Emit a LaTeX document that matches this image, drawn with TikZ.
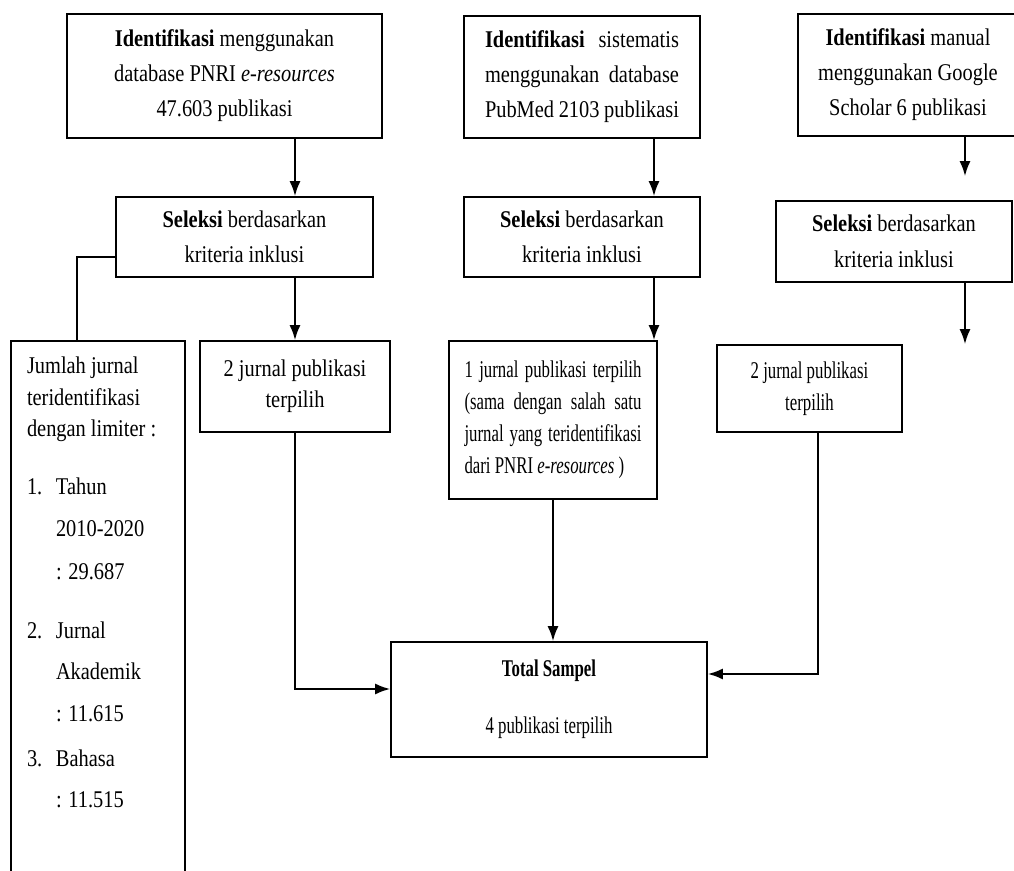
\documentclass[tikz,border=0pt]{standalone}
\usepackage{fontspec}
\setmainfont{Liberation Serif}
\newfontfamily\wideserif[FakeStretch=0.85]{Liberation Serif}
\newfontfamily\narrowserif[FakeStretch=0.70]{Liberation Serif}
\usetikzlibrary{arrows.meta,calc,positioning}

\newcommand{\listnum}[1]{\makebox[14.5pt][l]{#1}}

\begin{document}
\begin{tikzpicture}
[
                 x =  0.5pt,
                 y = -0.5pt,
            ->, >= {Latex[length=7.5pt,width=5.5pt]},
        line width = 1pt,
       box/.style = { draw=black, line width=0.8pt, rectangle, inner sep=0pt, align=center, font=\wideserif\fontsize{12}{17.5}\selectfont },
  smallbox/.style = { box, font=\narrowserif\fontsize{12}{16}\selectfont },
      list/.style = { draw=none, anchor=north west, align=left, inner sep=0pt, font=\wideserif\fontsize{12}{15.75}\selectfont },
  thinline/.style = { -, line width=0.7pt }
]

    \useasboundingbox (0,0) rectangle (1014,871);
    \clip (0,0) rectangle (1014,871);

    \coordinate (ColJ) at (77,0);
    \coordinate (ColB) at (654,0);
    \coordinate (ColC) at (965,0);
    \coordinate (ColD) at (818,0);

    \node (IdentPNRI)   at (224.5,76)  [box, minimum width=157.5pt, minimum height=62pt]
        {\textbf{Identifikasi} menggunakan\\ database PNRI \textit{e-resources}\\ 47.603 publikasi};
    \node (IdentPubMed) at (582,77)    [box, minimum width=118pt, minimum height=61pt, text width=97pt, align=justify]
        {\textbf{Identifikasi} sistematis\linebreak menggunakan database\linebreak PubMed 2103 publikasi};
    \node (IdentGoogle) at (908,75)    [box, minimum width=110pt, minimum height=61pt]
        {\textbf{Identifikasi} manual\\ menggunakan Google\\ Scholar 6 publikasi};

    \node (SelPNRI)     at (244.5,237) [box, minimum width=128.5pt, minimum height=40pt]
        {\textbf{Seleksi} berdasarkan\\ kriteria inklusi};
    \node (SelPubMed)   at (582,237)   [box, minimum width=118pt, minimum height=40pt]
        {\textbf{Seleksi} berdasarkan\\ kriteria inklusi};
    \node (SelGoogle)   at (894,241.5) [box, minimum width=118pt, minimum height=40.5pt, font=\wideserif\fontsize{12}{18}\selectfont]
        {\textbf{Seleksi} berdasarkan\\ kriteria inklusi};

    \node (Limiter)     at (98,620.5)  [box, minimum width=87pt, minimum height=279.5pt] {};
    \node (LimiterText) at (26,356)    [list]
        {Jumlah jurnal\\ teridentifikasi\\ dengan limiter :\\[13.25pt]
         \listnum{1.}Tahun\\[5.25pt] \hspace*{14.5pt}2010-2020\\[5.75pt] \hspace*{14.5pt}: 29.687\\[13.75pt]
         \listnum{2.}Jurnal\\[4.75pt] \hspace*{14.5pt}Akademik\\[5.25pt] \hspace*{14.5pt}: 11.615\\[6.75pt]
         \listnum{3.}Bahasa\\[4.75pt] \hspace*{14.5pt}: 11.515};

    \node (TerpilihPNRI)   at (295,386.5)   [box, minimum width=95pt, minimum height=45.5pt, font=\wideserif\fontsize{12}{15.5}\selectfont]
        {2 jurnal publikasi\\ terpilih};
    \node (TerpilihPubMed) at (553,420)     [smallbox, minimum width=104pt, minimum height=79pt, text width=88.5pt, align=justify]
        {1 jurnal publikasi terpilih\linebreak (sama dengan salah satu\linebreak jurnal yang teridentifikasi\linebreak dari PNRI \textit{e-resources} )};
    \node (TerpilihGoogle) at (809.5,388.5) [smallbox, minimum width=92.5pt, minimum height=43.5pt]
        {2 jurnal publikasi\\ terpilih};

    \node (Total) at (549,699.5) [smallbox, minimum width=158pt, minimum height=57.5pt]
        {\textbf{Total Sampel}\\[12.5pt] 4 publikasi terpilih};

    \draw (IdentPNRI.south -| TerpilihPNRI) -> (SelPNRI.north -| TerpilihPNRI);
    \draw (SelPNRI.south -| TerpilihPNRI) -> (TerpilihPNRI.north);
    \draw [thinline] ([yshift=-10pt]SelPNRI.west) -| (Limiter.north -| ColJ);
    \draw (TerpilihPNRI.south) |- ([yshift=5.25pt]Total.west);

    \draw (IdentPubMed.south -| ColB) -> (SelPubMed.north -| ColB);
    \draw (SelPubMed.south -| ColB) -> (TerpilihPubMed.north -| ColB);
    \draw (TerpilihPubMed.south) -> (TerpilihPubMed.south |- Total.north);

    \draw [shorten >=12pt] (IdentGoogle.south -| ColC) -> (SelGoogle.north -| ColC);
    \draw (SelGoogle.south -| ColC) -> (TerpilihGoogle.north -| ColC);
    \draw (TerpilihGoogle.south -| ColD) |- ([yshift=12.75pt]Total.east);

\end{tikzpicture}
\end{document}
